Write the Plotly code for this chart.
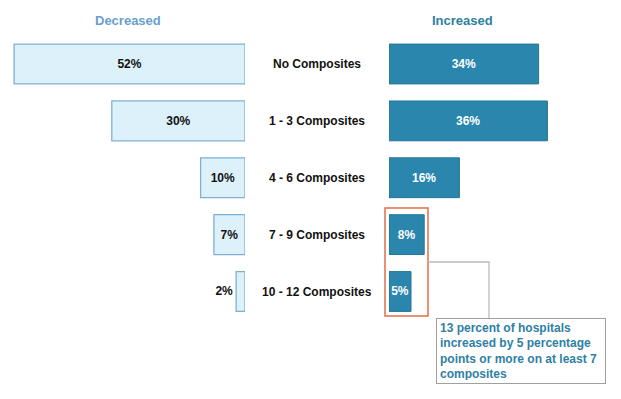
import plotly.graph_objects as go

categories = ["No Composites", "1 - 3 Composites", "4 - 6 Composites", "7 - 9 Composites", "10 - 12 Composites"]
decreased = [52, 30, 10, 7, 2]
increased = [34, 36, 16, 8, 5]
callout_text = "13 percent of hospitals<br>increased by 5 percentage<br>points or more on at least 7<br>composites"

W, H = 621, 399
def px(x): return x / W
def py(y): return 1 - y / H

FONT = "Liberation Sans, Arial, sans-serif"
ypos = list(range(len(categories)))

fig = go.Figure()
fig.add_trace(go.Bar(
    y=ypos, x=decreased, orientation="h", xaxis="x", yaxis="y",
    marker=dict(color="#dcf1fa", line=dict(color="#7fb0d4", width=1.3)),
    text=[f"{v}%" for v in decreased],
    textposition=["inside" if v >= 5 else "outside" for v in decreased],
    insidetextanchor="middle", textangle=0,
    textfont=dict(family=FONT, size=12, color="#111111", weight="bold"),
    cliponaxis=False, width=0.7, hoverinfo="skip"))
fig.add_trace(go.Bar(
    y=ypos, x=increased, orientation="h", xaxis="x2", yaxis="y",
    marker=dict(color="#2a86ad", line=dict(color="#237597", width=1)),
    text=[f"{v}%" for v in increased],
    textposition="inside", insidetextanchor="middle", textangle=0,
    textfont=dict(family=FONT, size=12, color="#ffffff", weight="bold"),
    cliponaxis=False, width=0.7, hoverinfo="skip"))

y0, y4 = 64, 291.5
step = (y4 - y0) / 4
fig.update_layout(
    width=W, height=H, margin=dict(l=0, r=0, t=0, b=0),
    paper_bgcolor="white", plot_bgcolor="white", showlegend=False,
    uniformtext=dict(minsize=12, mode="show"),
    xaxis=dict(domain=[0, px(245)], range=[245 / 4.44, 0], visible=False, fixedrange=True),
    xaxis2=dict(domain=[px(389), 1], range=[0, 232 / 4.4], visible=False, fixedrange=True),
    yaxis=dict(domain=[py(y4 + step / 2), py(y0 - step / 2)], range=[4.5, -0.5], visible=False,
               fixedrange=True),
    bargap=0.3,
)

for i, c in enumerate(categories):
    fig.add_annotation(x=px(317), y=i, xref="paper", yref="y", text=c, showarrow=False,
                       xanchor="center", yanchor="middle",
                       font=dict(family=FONT, size=12, color="#111111", weight="bold"))

fig.add_annotation(x=px(128), y=py(21), xref="paper", yref="paper", text="Decreased", showarrow=False,
                   xanchor="center", yanchor="middle",
                   font=dict(family=FONT, size=13, color="#6a9fcc", weight="bold"))
fig.add_annotation(x=px(462), y=py(21), xref="paper", yref="paper", text="Increased", showarrow=False,
                   xanchor="center", yanchor="middle",
                   font=dict(family=FONT, size=13, color="#2f7f9f", weight="bold"))

# orange highlight box
fig.add_shape(type="rect", xref="paper", yref="paper", x0=px(385), x1=px(428), y0=py(316), y1=py(208),
              line=dict(color="#e06f48", width=1.5))
# connector
fig.add_shape(type="path", xref="paper", yref="paper",
              path=f"M {px(428)} {py(262)} L {px(489)} {py(262)} L {px(489)} {py(318)}",
              line=dict(color="#bbbbbb", width=1.3))
# callout
fig.add_annotation(x=px(436), y=py(318), xref="paper", yref="paper", xanchor="left", yanchor="top",
                   text=callout_text, showarrow=False, align="left",
                   font=dict(family=FONT, size=12, color="#2f7fa5", weight="bold"),
                   bordercolor="#a0a0a0", borderwidth=1, borderpad=3, bgcolor="white",
                   width=162, height=58)

fig.write_html("out.html", config={"displayModeBar": False, "staticPlot": True},
               post_script="document.body.style.margin='0';")
